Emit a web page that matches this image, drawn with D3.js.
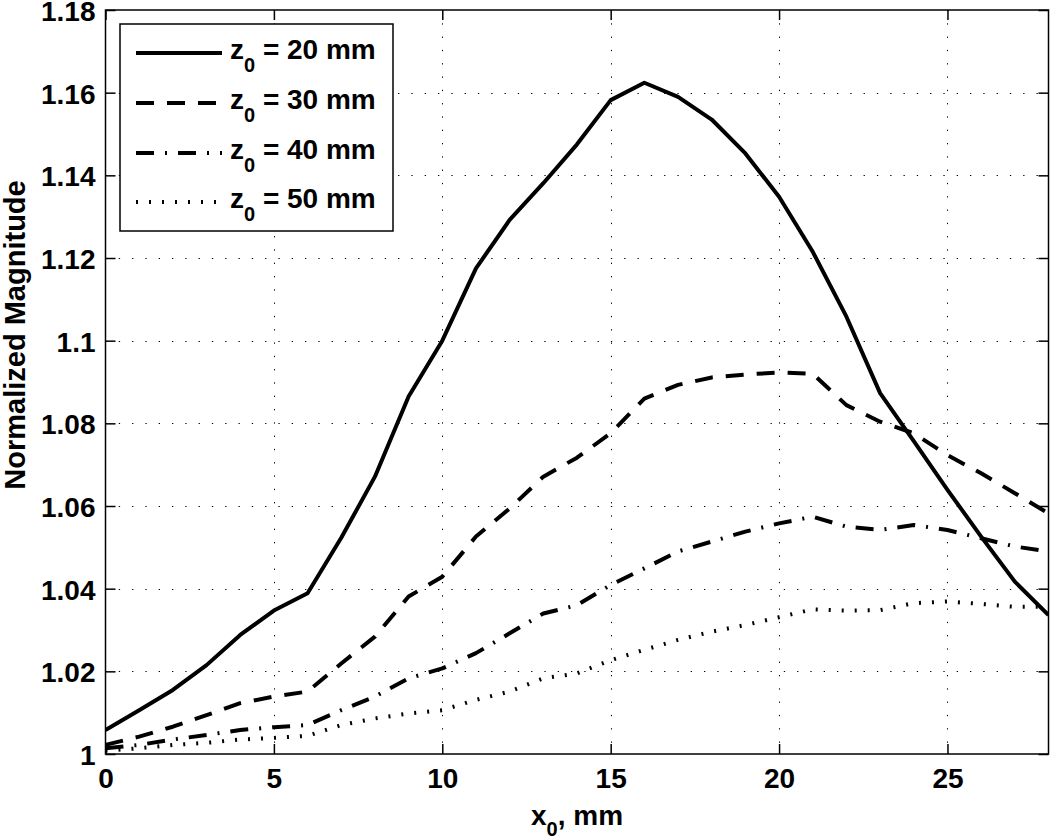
<!DOCTYPE html>
<html>
<head>
<meta charset="utf-8">
<script src="https://cdn.jsdelivr.net/npm/d3@7"></script>
<style>
  html, body { margin: 0; padding: 0; background: #fff; }
  svg text { font-family: "Liberation Sans", Arial, Helvetica, sans-serif; font-weight: bold; fill: #000; }
</style>
</head>
<body>
<svg id="chart" width="1050" height="840"></svg>
<script>
// ---- data ----
const xValues = [0,1,2,3,4,5,6,7,8,9,10,11,12,13,14,15,16,17,18,19,20,21,22,23,24,25,26,27,28];
const z20 = [1.0058,1.0106,1.0155,1.0215,1.0288,1.0347,1.0389,1.0523,1.0671,1.0865,1.1000,1.1175,1.1292,1.1381,1.1475,1.1582,1.1624,1.1590,1.1535,1.1453,1.1348,1.1215,1.1058,1.0873,1.0757,1.0639,1.0526,1.0417,1.0336];
const z30 = [1.0022,1.0042,1.0066,1.0094,1.0123,1.0139,1.0151,1.0219,1.0284,1.0381,1.0429,1.0526,1.0594,1.0671,1.0717,1.0776,1.0860,1.0893,1.0911,1.0918,1.0923,1.0920,1.0844,1.0804,1.0776,1.0723,1.0679,1.0631,1.0582];
const z40 = [1.0014,1.0022,1.0035,1.0046,1.0058,1.0065,1.0070,1.0106,1.0139,1.0183,1.0207,1.0244,1.0292,1.0340,1.0360,1.0409,1.0449,1.0490,1.0514,1.0538,1.0558,1.0574,1.0550,1.0542,1.0554,1.0542,1.0522,1.0502,1.0490];
const z50 = [1.0008,1.0014,1.0022,1.0027,1.0035,1.0039,1.0044,1.0070,1.0086,1.0098,1.0106,1.0131,1.0151,1.0183,1.0195,1.0227,1.0252,1.0276,1.0296,1.0312,1.0331,1.0350,1.0347,1.0348,1.0365,1.0369,1.0363,1.0356,1.0356];
const seriesLabels = ["20 mm", "30 mm", "40 mm", "50 mm"];
const xTicks = [0,5,10,15,20,25];
const yTicks = [1,1.02,1.04,1.06,1.08,1.1,1.12,1.14,1.16,1.18];
const xDomain = [0, 28];
const yDomain = [1, 1.18];

// ---- layout ----
const svg = d3.select("#chart");
const L = 105.5, R = 1048.5, T = 10, B = 754;
const x = d3.scaleLinear().domain(xDomain).range([L, R]);
const y = d3.scaleLinear().domain(yDomain).range([B, T]);

const styles = [
  { dash: null },
  { dash: "18,13" },
  { dash: "18,11,2,11" },
  { dash: "2,11" }
];
const seriesData = [z20, z30, z40, z50];

// grid
const grid = svg.append("g");
grid.selectAll("line.gx").data(xTicks.filter(d => d > xDomain[0] && d < xDomain[1]))
  .join("line").attr("x1", d => Math.round(x(d)) + 0.5).attr("x2", d => Math.round(x(d)) + 0.5)
  .attr("y1", T).attr("y2", B)
  .attr("stroke", "#000").attr("stroke-width", 1).attr("stroke-dasharray", "1.3,12");
grid.selectAll("line.gy").data(yTicks.filter(d => d > yDomain[0] && d < yDomain[1]))
  .join("line").attr("y1", d => Math.round(y(d)) + 0.5).attr("y2", d => Math.round(y(d)) + 0.5)
  .attr("x1", L).attr("x2", R)
  .attr("stroke", "#000").attr("stroke-width", 1).attr("stroke-dasharray", "1.3,12");

// axes with inward ticks on all sides
const tickLen = 10;
const axB = svg.append("g").attr("transform", `translate(0,${B})`)
  .call(d3.axisBottom(x).tickValues(xTicks).tickSize(-tickLen).tickPadding(14).tickFormat(d3.format("d")));
const axT = svg.append("g").attr("transform", `translate(0,${T})`)
  .call(d3.axisTop(x).tickValues(xTicks).tickSize(-tickLen).tickFormat(""));
const axL = svg.append("g").attr("transform", `translate(${L},0)`)
  .call(d3.axisLeft(y).tickValues(yTicks).tickSize(-tickLen).tickPadding(10).tickFormat(d => d3.format("")(+d.toFixed(2))));
const axR = svg.append("g").attr("transform", `translate(${R},0)`)
  .call(d3.axisRight(y).tickValues(yTicks).tickSize(-tickLen).tickFormat(""));
[axB, axT, axL, axR].forEach(a => {
  a.select(".domain").remove();
  a.selectAll(".tick line").attr("stroke", "#000").attr("stroke-width", 1.5);
  a.selectAll("text").style("font-size", "28px").style("font-weight", "bold").attr("fill", "#000");
});
axB.selectAll("text").attr("dy", "0.71em");
axL.selectAll("text").attr("dy", "0.37em");

// frame
svg.append("rect").attr("x", L).attr("y", T).attr("width", R - L).attr("height", B - T)
  .attr("fill", "none").attr("stroke", "#000").attr("stroke-width", 1.5);

// clip
svg.append("clipPath").attr("id", "clip").append("rect")
  .attr("x", L).attr("y", T).attr("width", R - L).attr("height", B - T);

// lines
const line = d3.line().x((d, i) => x(xValues[i])).y(d => y(d));
svg.append("g").attr("clip-path", "url(#clip)")
  .selectAll("path").data(seriesData).join("path")
  .attr("d", d => line(d))
  .attr("fill", "none").attr("stroke", "#000").attr("stroke-width", 4)
  .attr("stroke-linejoin", "round").attr("stroke-linecap", "butt")
  .attr("stroke-dasharray", (d, i) => styles[i].dash);

// legend
const lg = svg.append("g");
lg.append("rect").attr("x", 120).attr("y", 24).attr("width", 273).attr("height", 207)
  .attr("fill", "#fff").attr("stroke", "#000").attr("stroke-width", 1.5);
const rowY = [53, 103, 153, 202];
seriesLabels.forEach((lab, i) => {
  lg.append("line").attr("x1", 136).attr("x2", 222).attr("y1", rowY[i]).attr("y2", rowY[i])
    .attr("stroke", "#000").attr("stroke-width", 4).attr("stroke-linecap", "butt")
    .attr("stroke-dasharray", styles[i].dash);
  const t = lg.append("text").attr("x", 230).attr("y", rowY[i] + 6).style("font-size", "28px");
  t.append("tspan").text("z");
  t.append("tspan").attr("dy", 13).style("font-size", "20px").text("0");
  t.append("tspan").attr("dy", -13).text(" = " + lab);
});

// axis labels
const xl = svg.append("text").attr("x", (L + R) / 2).attr("y", 825).attr("text-anchor", "middle").style("font-size", "28px");
xl.append("tspan").text("x");
xl.append("tspan").attr("dy", 11).style("font-size", "20px").text("0");
xl.append("tspan").attr("dy", -11).text(", mm");

svg.append("text").attr("transform", "translate(25,335) rotate(-90)")
  .attr("text-anchor", "middle").style("font-size", "29px").text("Normalized Magnitude");
</script>
</body>
</html>
